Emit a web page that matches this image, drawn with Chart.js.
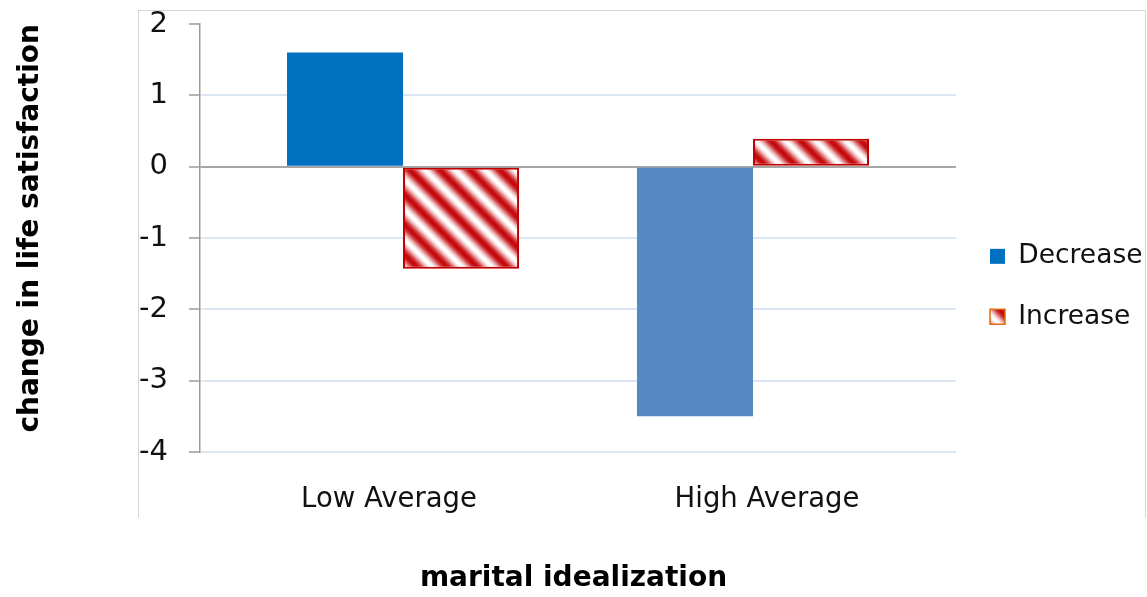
<!DOCTYPE html>
<html>
<head>
<meta charset="utf-8">
<script src="https://cdn.jsdelivr.net/npm/chart.js@4.4.1/dist/chart.umd.min.js"></script>
<style>
  html, body { margin: 0; padding: 0; background: #ffffff; }
  #wrap { position: relative; width: 1147px; height: 597px; }
  #frame {
    position: absolute; left: 138px; top: 10px; width: 1006px; height: 507px;
    border: 1px solid #d6d6d6; border-bottom: none; pointer-events: none;
  }
</style>
</head>
<body>
<div id="wrap">
  <canvas id="chart" width="1147" height="597"></canvas>
  <div id="frame"></div>
</div>
<script>
// Categories and series values
const categories = ['Low Average', 'High Average'];
const seriesNames = ['Decrease', 'Increase'];
const decreaseValues = [1.6, -3.5];
const increaseValues = [-1.43, 0.39];
const yTickValues = [2, 1, 0, -1, -2, -3, -4];
const axisTitles = { x: 'marital idealization', y: 'change in life satisfaction' };

// Colours
const decreaseColors = ['#0070C0', '#5688C2'];
const increaseBorder = '#C00000';
const increaseLegendBorder = '#E46C0A';

const canvas = document.getElementById('chart');
const ctx = canvas.getContext('2d');

// Diagonal red/white gradient stripes used for the "Increase" bars
function stripePattern(period, rgb) {
  const tile = document.createElement('canvas');
  tile.width = period; tile.height = period;
  const g = tile.getContext('2d');
  const img = g.createImageData(period, period);
  for (let y = 0; y < period; y++) {
    for (let x = 0; x < period; x++) {
      const t = ((((x - y) % period) + period) % period) / period;
      const w = 0.5 + 0.5 * Math.cos(2 * Math.PI * t);
      const i = (y * period + x) * 4;
      img.data[i] = Math.round(255 + (rgb[0] - 255) * w);
      img.data[i + 1] = Math.round(255 + (rgb[1] - 255) * w);
      img.data[i + 2] = Math.round(255 + (rgb[2] - 255) * w);
      img.data[i + 3] = 255;
    }
  }
  g.putImageData(img, 0, 0);
  return ctx.createPattern(tile, 'repeat');
}
const increaseFill = stripePattern(30, [196, 8, 12]);

Chart.defaults.font.family = "'DejaVu Sans', Verdana, sans-serif";
Chart.defaults.color = '#000000';

const toPoints = (values) => values.map((v, i) => ({ x: i, y: v }));
const yTop = Math.max(...yTickValues);
const yBottom = Math.min(...yTickValues);

new Chart(ctx, {
  type: 'bar',
  data: {
    datasets: [
      {
        label: seriesNames[0],
        data: toPoints(decreaseValues),
        backgroundColor: decreaseColors,
        borderWidth: 0,
        xAxisID: 'x',
        yAxisID: 'y'
      },
      {
        label: seriesNames[1],
        data: toPoints(increaseValues),
        backgroundColor: increaseFill,
        borderColor: increaseBorder,
        borderWidth: 2,
        borderSkipped: false,
        xAxisID: 'x',
        yAxisID: 'y'
      }
    ]
  },
  options: {
    responsive: false,
    animation: false,
    devicePixelRatio: 1,
    categoryPercentage: 0.663,
    barPercentage: 1,
    layout: { padding: { top: 24, left: 0, right: 0, bottom: 0 } },
    scales: {
      x: {
        type: 'linear',
        display: false,
        offset: false,
        min: -0.58,
        max: 1.58,
        ticks: { stepSize: 1, includeBounds: false }
      },
      xl: {
        type: 'category',
        axis: 'x',
        position: 'bottom',
        labels: categories,
        offset: true,
        grid: { display: false, drawTicks: false },
        border: { display: false },
        ticks: {
          padding: 31,
          maxRotation: 0,
          color: '#111111',
          font: { size: 27.5 }
        }
      },
      y: {
        type: 'linear',
        position: 'left',
        min: yBottom,
        max: yTop,
        ticks: {
          stepSize: 1,
          padding: 21,
          color: '#111111',
          font: { size: 29, lineHeight: 0.2 }
        },
        grid: {
          color: (c) => c.tick.value === 0 ? '#a6a6a6'
            : (c.tick.value === yTop ? 'rgba(0,0,0,0)' : '#dbe5f3'),
          lineWidth: 2,
          drawTicks: true,
          tickLength: 11,
          tickColor: '#9a9a9a',
          tickWidth: 1.5
        },
        border: { display: true, color: '#9a9a9a', width: 1.5 },
        title: {
          display: true,
          text: axisTitles.y,
          align: 'end',
          color: '#000000',
          font: { size: 28, weight: 'bold' },
          padding: { top: 14, bottom: 70.5 }
        }
      }
    },
    plugins: {
      tooltip: { enabled: false },
      title: {
        display: true,
        position: 'bottom',
        text: axisTitles.x,
        color: '#000000',
        font: { size: 28, weight: 'bold' },
        padding: { top: 15, bottom: 1.4 }
      },
      legend: {
        position: 'right',
        fullSize: false,
        align: 'center',
        maxWidth: 191,
        title: { display: true, text: '', font: { size: 1 }, padding: { top: 96, bottom: 0 } },
        labels: {
          boxWidth: 15,
          boxHeight: 15,
          padding: 34,
          color: '#111111',
          font: { size: 26.5 },
          generateLabels: (chart) => {
            const items = Chart.defaults.plugins.legend.labels.generateLabels(chart);
            items.forEach((item, i) => {
              if (i === 0) { item.fillStyle = decreaseColors[0]; item.lineWidth = 0; }
              else { item.strokeStyle = increaseLegendBorder; item.lineWidth = 1.5; }
            });
            return items;
          }
        }
      }
    }
  }
});
</script>
</body>
</html>
